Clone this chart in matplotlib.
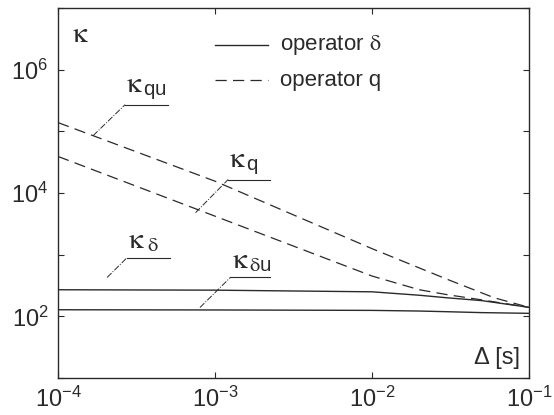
import numpy as np
import matplotlib.pyplot as plt
from matplotlib.ticker import NullFormatter

plt.rcParams['font.family'] = ['Liberation Sans', 'DejaVu Sans']
plt.rcParams['mathtext.fontset'] = 'custom'
plt.rcParams['mathtext.rm'] = 'STIXGeneral'
plt.rcParams['mathtext.it'] = 'STIXGeneral:italic'
plt.rcParams['mathtext.bf'] = 'STIXGeneral:bold'
plt.rcParams['mathtext.sf'] = 'Liberation Sans'

# sampling period [s]
delta_t = [1e-4, 1e-3, 1e-2, 2e-2, 3e-2, 5e-2, 1e-1]

# condition numbers, operator delta
kappa_delta = [270, 266, 250, 220, 200, 180, 140]
kappa_delta_u = [128, 127, 125, 122, 119, 115, 112]

# condition numbers, operator q
kappa_q = [39000, 4200, 450, 270, 225, 185, 140]
qu_t = [1e-4, 1e-3, 1e-2, 3e-2, 6e-2, 1e-1]
kappa_qu = [138000, 15500, 1250, 400, 200, 140]

ink = '#2a2a2a'

fig = plt.figure(figsize=(5.54, 4.15), dpi=100)
ax = fig.add_axes([0.105, 0.089, 0.850, 0.892])

ax.loglog(delta_t, kappa_delta, color=ink, lw=1.0)
ax.loglog(delta_t, kappa_delta_u, color=ink, lw=1.0)
ax.loglog(delta_t, kappa_q, color=ink, lw=0.9, ls=(0, (9, 5)))
ax.loglog(qu_t, kappa_qu, color=ink, lw=0.9, ls=(0, (9, 5)))

ax.set_xlim(1e-4, 1e-1)
ax.set_ylim(1e1, 1e7)

ax.set_xticks([1e-4, 1e-3, 1e-2, 1e-1])
ax.xaxis.set_minor_formatter(NullFormatter())
ax.set_xticks([], minor=True)
ax.set_yticks([1e2, 1e4, 1e6])
ax.set_yticks([1e1, 1e3, 1e5, 1e7], minor=True)
ax.yaxis.set_minor_formatter(NullFormatter())
ax.tick_params(which='both', direction='in', top=True, right=True,
               length=4, width=0.8, color=ink, labelsize=17,
               labelcolor=ink)
ax.tick_params(axis='x', pad=6)
ax.tick_params(axis='y', pad=7)
for s in ax.spines.values():
    s.set_color(ink)
    s.set_linewidth(1.0)

# curve labels with leaders
labels = [
    (r'$\mathrm{κ}_{\,\mathsf{qu}}$', (1.67e-4, 8.5e4), (2.67e-4, 2.7e5), 5.0e-4),
    (r'$\mathrm{κ}_{\,\mathsf{q}}$', (7.5e-4, 4.8e3), (1.21e-3, 1.65e4), 2.24e-3),
    (r'$\mathrm{κ}_{\;\mathrm{δ}}$', (2.05e-4, 427), (2.75e-4, 898), 5.16e-4),
    (r'$\mathrm{κ}_{\,\mathrm{δ}\mathsf{u}}$', (8.0e-4, 139), (1.25e-3, 427), 2.24e-3),
]
for txt, tip, corner, end in labels:
    ax.plot([tip[0], corner[0]], [tip[1], corner[1]], color=ink,
            lw=0.7, ls='-.')
    ax.plot([corner[0], end], [corner[1], corner[1]], color=ink, lw=0.8)
    ax.text(corner[0] * 1.02, corner[1] * 1.12, txt, fontsize=21,
            color=ink, ha='left', va='bottom')

ax.text(0.047, 0.93, r'$\mathrm{κ}$', transform=ax.transAxes, fontsize=21,
        color=ink, ha='center', va='center')
ax.text(0.932, 0.054, 'Δ [s]', transform=ax.transAxes,
        fontsize=17, color=ink, ha='center', va='center')

# legend
ax.plot([0.333, 0.446], [0.90, 0.90], transform=ax.transAxes,
        color=ink, lw=1.0)
ax.plot([0.333, 0.446], [0.805, 0.805], transform=ax.transAxes,
        color=ink, lw=0.9, ls=(0, (9, 5)))
ax.text(0.471, 0.90, r'operator $\mathrm{δ}$', transform=ax.transAxes,
        fontsize=16, color=ink, va='center')
ax.text(0.471, 0.805, 'operator q', transform=ax.transAxes,
        fontsize=16, color=ink, va='center')

fig.savefig('out.png', dpi=100)
